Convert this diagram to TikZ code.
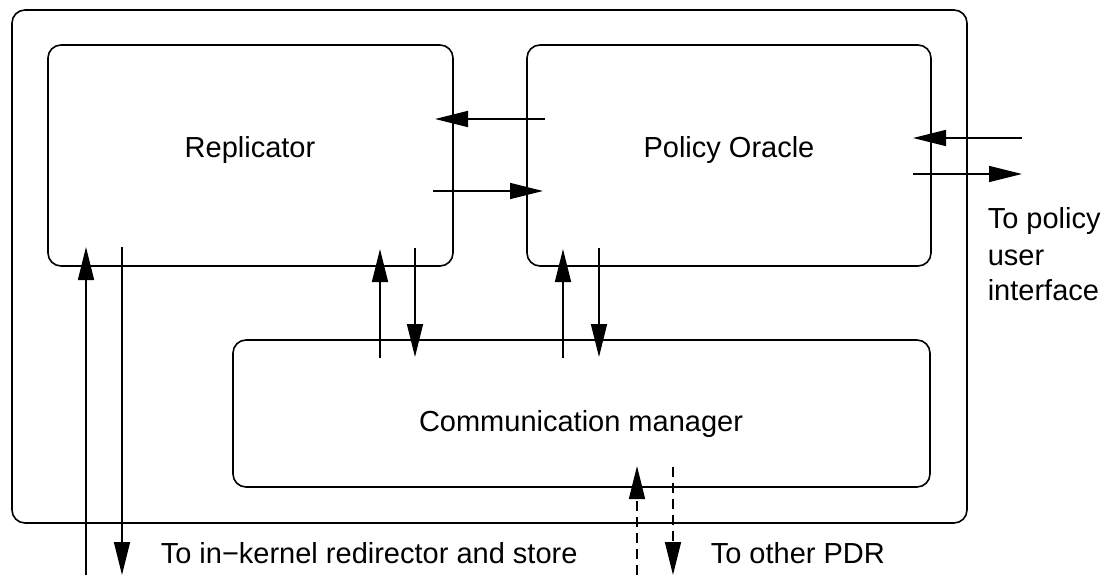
\documentclass[tikz,border=0pt]{standalone}
\usepackage{fontspec}
\setmainfont{Liberation Sans}
\usetikzlibrary{arrows.meta}
\begin{document}
\begin{tikzpicture}[x=1pt,y=-1pt,line width=1.6pt,
  box/.style={draw,rounded corners=13pt,inner sep=0pt},
  lbl/.style={font=\fontsize{29}{36}\selectfont,inner sep=0pt},
  flow/.style={-{Triangle[length=33pt,width=16pt]}},
  dflow/.style={flow,dash pattern=on 10pt off 6pt}]
\useasboundingbox (0,0) rectangle (1109,575);

% enclosing system and its three components
\node[box,minimum width=955pt,minimum height=513pt] (sys) at (489.5,266.5) {};
\node[box,minimum width=405pt,minimum height=221pt] (rep) at (250.5,155.5) {};
\node[box,minimum width=404pt,minimum height=221pt] (pol) at (729,155.5) {};
\node[box,minimum width=697pt,minimum height=147pt] (com) at (581.5,413.5) {};

% component names
\node[lbl,anchor=base] (repT) at (250,158) {Replicator};
\node[lbl,anchor=base] (polT) at (729,158) {Policy Oracle};
\node[lbl,anchor=base] (comT) at (581,431) {Communication manager};

% external labels
\node[lbl,anchor=base west] (ui1) at (987,229) {To policy};
\node[lbl,anchor=base west] (ui2) at (987,265) {user};
\node[lbl,anchor=base west] (ui3) at (987,300) {interface};
\node[lbl,anchor=base west] (kern) at (160,563) {To in−kernel redirector and store};
\node[lbl,anchor=base west] (pdr) at (710,563) {To other PDR};

% end points of the connectors
\coordinate (p2rS) at (545,119);  \coordinate (p2rE) at (435,119);
\coordinate (r2pS) at (433,191);  \coordinate (r2pE) at (543,191);
\coordinate (uiInS) at (1022,138); \coordinate (uiInE) at (913,138);
\coordinate (uiOutS) at (913,174); \coordinate (uiOutE) at (1022,174);
\coordinate (c2rS) at (380,358);  \coordinate (c2rE) at (380,249);
\coordinate (r2cS) at (415,248);  \coordinate (r2cE) at (415,357);
\coordinate (c2pS) at (563,358);  \coordinate (c2pE) at (563,249);
\coordinate (p2cS) at (599,248);  \coordinate (p2cE) at (599,357);
\coordinate (kInS) at (86,575);   \coordinate (kInE) at (86,247);
\coordinate (kOutS) at (122,247); \coordinate (kOutE) at (122,575);
\coordinate (nInS) at (637,575);  \coordinate (nInE) at (637,466);
\coordinate (nOutS) at (673,467); \coordinate (nOutE) at (673,575);

% connectors
\draw[flow] (p2rS) -- (p2rE);
\draw[flow] (r2pS) -- (r2pE);
\draw[flow] (uiInS) -- (uiInE);
\draw[flow] (uiOutS) -- (uiOutE);
\draw[flow] (c2rS) -- (c2rE);
\draw[flow] (r2cS) -- (r2cE);
\draw[flow] (c2pS) -- (c2pE);
\draw[flow] (p2cS) -- (p2cE);
\draw[flow] (kInS) -- (kInE);
\draw[flow] (kOutS) -- (kOutE);
\draw[dflow] (nInS) -- (nInE);
\draw[dflow] (nOutS) -- (nOutE);
\end{tikzpicture}
\end{document}
